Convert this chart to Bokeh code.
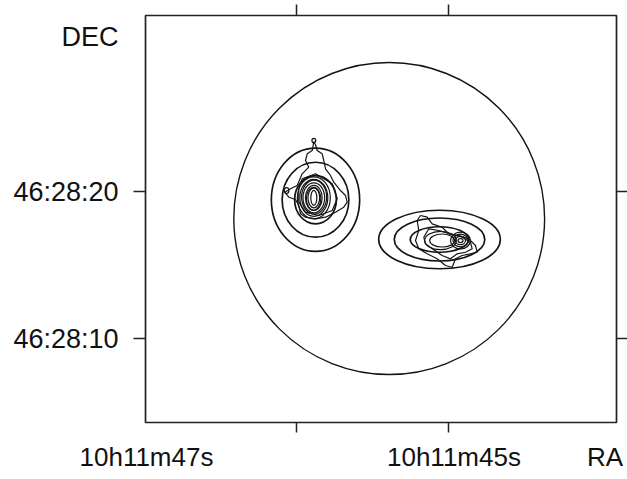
from bokeh.plotting import figure
from bokeh.models import Range1d, LinearAxis, FixedTicker
from bokeh.embed import file_html
from bokeh.resources import INLINE

# ---- data (RA in seconds after 10h11m, DEC in arcsec after 46:28:00) ----
ra_ticks = [47, 45]
ra_tick_labels = ["10h11m47s", "10h11m45s"]
dec_ticks = [10, 20]
dec_tick_labels = ["46:28:10", "46:28:20"]

# primary beam circle
beam_ra = [45.78]
beam_dec = [18.16]
beam_w = [4.09]
beam_h = [21.22]

# model (Gaussian) contours of the two sources
model_ra = [46.75, 46.75, 46.75, 45.118, 45.118, 45.118]
model_dec = [19.442, 19.442, 19.442, 16.735, 16.735, 16.735]
model_w = [1.162, 0.878, 0.549, 1.601, 1.191, 0.770]
model_h = [7.027, 5.102, 3.286, 3.98, 2.925, 1.735]

# compact cores of the observed contours
core_ra = [46.772, 46.772, 46.772, 46.772, 46.772, 46.772, 46.775, 46.768,
           45.083, 45.105, 44.842, 44.842, 44.842, 44.842, 46.772, 47.130]
core_dec = [19.571, 19.571, 19.571, 19.571, 19.571, 19.571, 19.50, 19.62,
            16.667, 16.667, 16.667, 16.667, 16.667, 16.667, 23.470, 20.060]
core_w = [0.079, 0.154, 0.22, 0.285, 0.368, 0.434, 0.19, 0.33,
          0.329, 0.417, 0.066, 0.132, 0.197, 0.263, 0.05, 0.06]
core_h = [1.02, 1.36, 1.70, 2.04, 2.52, 2.86, 1.55, 2.30,
          0.884, 1.245, 0.27, 0.565, 0.864, 1.136, 0.30, 0.40]

# extended observed contours (irregular)
west_outer_ra = [46.772, 46.793, 46.859, 46.882, 46.838, 46.925, 46.991, 47.079, 47.154, 47.101,
                 47.013, 46.970, 46.947, 46.882, 46.750, 46.618, 46.487, 46.378, 46.333, 46.355,
                 46.421, 46.509, 46.553, 46.618, 46.641, 46.662, 46.728, 46.750, 46.772]
west_outer_dec = [23.401, 22.789, 22.565, 22.109, 21.653, 21.204, 20.408, 20.184, 19.952, 19.612,
                  19.456, 19.048, 18.483, 18.252, 18.143, 18.252, 18.592, 18.932, 19.272, 19.728,
                  20.068, 20.633, 21.088, 21.544, 22.109, 22.565, 22.789, 23.177, 23.401]
west_inner_ra = [46.925, 46.750, 46.530, 46.464, 46.530, 46.707, 46.882, 46.970, 46.970, 46.925]
west_inner_dec = [20.864, 21.204, 20.524, 19.503, 18.707, 18.367, 18.592, 19.272, 20.184, 20.864]

east_outer_ra = [45.412, 45.368, 45.280, 45.214, 45.083, 44.996, 44.864, 44.733, 44.645, 44.622,
                 44.711, 44.820, 44.908, 44.951, 45.039, 45.149, 45.280, 45.391, 45.434, 45.391, 45.412]
east_outer_dec = [18.027, 18.367, 18.252, 17.803, 17.571, 17.122, 17.007, 16.782, 16.327, 15.871,
                  15.762, 15.646, 15.422, 14.850, 14.966, 15.422, 15.762, 16.102, 16.667, 17.347, 18.027]
east_inner_ra = [45.325, 45.259, 45.128, 44.974, 44.820, 44.711, 44.688, 44.776, 44.886, 44.974,
                 45.083, 45.214, 45.303, 45.325]
east_inner_dec = [16.891, 17.463, 17.347, 17.122, 16.891, 16.551, 16.102, 15.871, 15.762, 15.422,
                  15.646, 16.102, 16.442, 16.891]

# where the printed labels sit (the plot's labels are offset from their ticks)
ra_label_pos = [48.974, 44.928, 42.941]
ra_label_text = ra_tick_labels + ["RA"]
dec_label_pos = dec_ticks + [30.476]
dec_label_text = dec_tick_labels + ["DEC"]

# ---- figure ----
LINE = "#141414"
FONT = "Liberation Sans"
W, H = 627, 479

p = figure(width=W, height=H, output_backend="svg", toolbar_location=None,
           x_range=Range1d(48.987, 42.789), y_range=Range1d(4.29, 31.97),
           min_border_left=145, min_border_right=11, min_border_top=15, min_border_bottom=57)
p.grid.visible = False
p.background_fill_color = "white"
p.border_fill_color = "white"
p.outline_line_color = "#222222"
p.outline_line_width = 1.7

# tick-only axes next to the frame
bottom = p.below[0]
left = p.left[0]
top = LinearAxis()
right = LinearAxis()
p.add_layout(top, "above")
p.add_layout(right, "right")
for ax, ticks, out in [(bottom, ra_ticks, 10), (top, ra_ticks, 11), (left, dec_ticks, 12), (right, dec_ticks, 11)]:
    ax.ticker = FixedTicker(ticks=ticks)
    ax.major_label_overrides = {t: "" for t in ticks}
    ax.major_label_text_font_size = "1px"
    ax.major_label_standoff = 0
    ax.axis_line_color = None
    ax.major_tick_in = 0
    ax.major_tick_out = out
    ax.major_tick_line_color = "#222222"
    ax.major_tick_line_width = 1.5
    ax.minor_tick_line_color = None

# label-only axes outside them
xlab = LinearAxis(ticker=FixedTicker(ticks=ra_label_pos),
                  major_label_overrides=dict(zip(ra_label_pos, ra_label_text)))
ylab = LinearAxis(ticker=FixedTicker(ticks=dec_label_pos),
                  major_label_overrides=dict(zip(dec_label_pos, dec_label_text)))
p.add_layout(xlab, "below")
p.add_layout(ylab, "left")
for ax, size, so in [(xlab, "26px", 9), (ylab, "27px", 15)]:
    ax.axis_line_color = None
    ax.major_tick_line_color = None
    ax.minor_tick_line_color = None
    ax.major_tick_in = 0
    ax.major_tick_out = 0
    ax.major_label_standoff = so
    ax.major_label_text_font = FONT
    ax.major_label_text_font_size = size
    ax.major_label_text_color = "#111111"

# contours
p.ellipse(x=beam_ra, y=beam_dec, width=beam_w, height=beam_h,
          fill_color=None, line_color=LINE, line_width=1.4)
p.ellipse(x=model_ra, y=model_dec, width=model_w, height=model_h,
          fill_color=None, line_color=LINE, line_width=1.7)
p.ellipse(x=core_ra, y=core_dec, width=core_w, height=core_h,
          fill_color=None, line_color=LINE, line_width=1.2)
p.multi_line(xs=[west_outer_ra, west_inner_ra, east_outer_ra, east_inner_ra],
             ys=[west_outer_dec, west_inner_dec, east_outer_dec, east_inner_dec],
             line_color=LINE, line_width=1.2)

open("out.html", "w").write(file_html(p, INLINE))
